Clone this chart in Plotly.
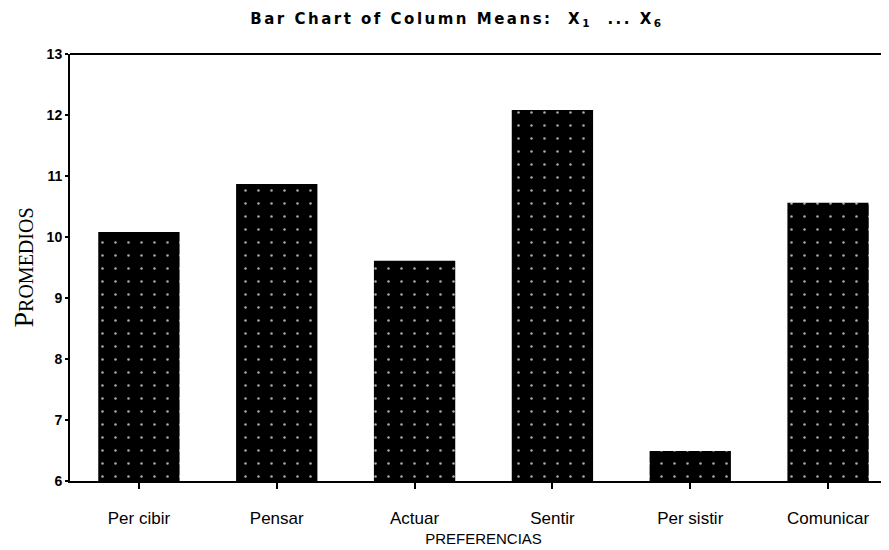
import plotly.graph_objects as go

categories = ["Per cibir", "Pensar", "Actuar", "Sentir", "Per sistir", "Comunicar"]
means = [10.08, 10.87, 9.61, 12.08, 6.49, 10.56]
y_ticks = [6, 7, 8, 9, 10, 11, 12, 13]

fig = go.Figure(
    go.Bar(
        x=categories,
        y=means,
        width=0.59,
        marker=dict(
            color="black",
            line=dict(width=0),
            pattern=dict(shape=".", fgcolor="#aaaaaa", bgcolor="black",
                         size=13, solidity=0.03, fillmode="replace"),
        ),
    )
)

fig.update_layout(
    width=889,
    height=550,
    paper_bgcolor="white",
    plot_bgcolor="white",
    margin=dict(l=62, r=0, t=46, b=77, autoexpand=False),
    showlegend=False,
    title=dict(
        text="<span style='letter-spacing:2.5px'><b>Bar Chart of Column Means:  X<sub>1</sub>  ... X<sub>6</sub></b></span>",
        x=0.505, xanchor="center", y=0.99, yanchor="top",
        font=dict(family="DejaVu Sans, Verdana", size=15, color="black"),
    ),
    font=dict(family="Liberation Sans, Arial", color="black"),
)

fig.update_xaxes(
    range=[-0.5, 5.5],
    automargin=False,
    showline=True, linecolor="black", linewidth=2, mirror=False,
    ticks="outside", ticklen=6, tickwidth=2, tickcolor="black",
    ticklabelstandoff=15,
    tickfont=dict(family="Liberation Sans Narrow, Liberation Sans, Arial", size=17, color="black"),
    showgrid=False, zeroline=False,
    title=dict(text="PREFERENCIAS", standoff=6,
               font=dict(family="Liberation Sans Narrow, Liberation Sans, Arial", size=15, color="black")),
)

fig.update_yaxes(
    range=[6, 13],
    tickvals=y_ticks,
    automargin=False,
    showline=True, linecolor="black", linewidth=2, mirror=False,
    ticks="outside", ticklen=3, tickwidth=2, tickcolor="black",
    tickfont=dict(family="Liberation Sans, Arial", size=14, color="black", weight="bold"),
    showgrid=False, zeroline=False,
    title=dict(
        text="P<span style='font-size:20px'>ROMEDIOS</span>",
        standoff=16,
        font=dict(family="Liberation Serif, Times New Roman", size=28, color="black"),
    ),
)

# top border line of the plot area
fig.add_shape(type="line", xref="paper", yref="paper", x0=0, x1=1, y0=1, y1=1,
              line=dict(color="black", width=2))

fig.write_html("out.html")
